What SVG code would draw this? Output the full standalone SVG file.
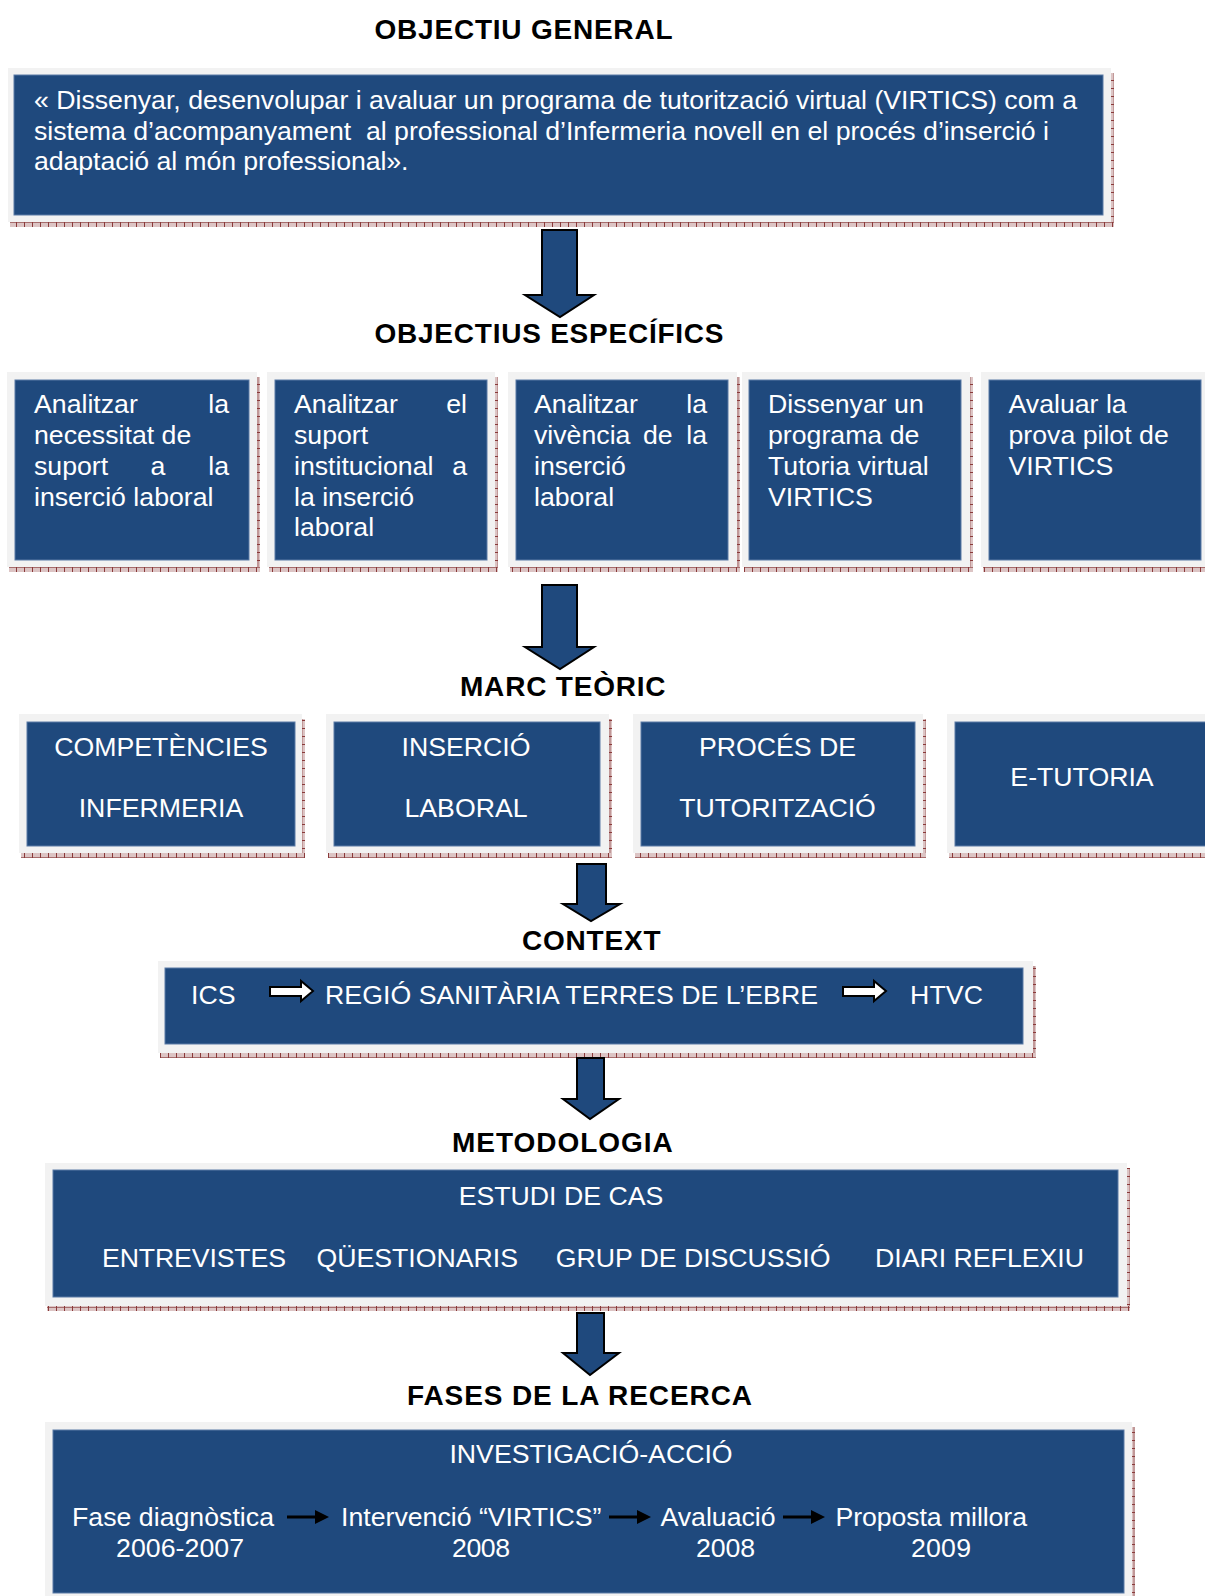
<svg xmlns="http://www.w3.org/2000/svg" width="1205" height="1596" viewBox="0 0 1205 1596">
<defs>
<style>
.frame{fill:#f2f2f2}
.box{fill:#1f497d;stroke:#5a7aa6;stroke-width:1}
.t{font-family:"Liberation Sans",Arial,sans-serif;font-size:26.7px;fill:#ffffff}
.h{font-family:"Liberation Sans",Arial,sans-serif;font-weight:bold;font-size:28px;fill:#000000}
.big{fill:#1f497d;stroke:#000000;stroke-width:2;stroke-linejoin:miter}
.wa{fill:#ffffff;stroke:#000000;stroke-width:2;stroke-linejoin:miter}
.ba{stroke:#000000;stroke-width:3}
.bh{fill:#000000}
.shb{fill:url(#shH)}
.shr{fill:url(#shV)}
</style>
<pattern id="shH" width="8" height="5" patternUnits="userSpaceOnUse">
<rect width="8" height="5" fill="#dcc4c4"/><rect y="2" width="8" height="1" fill="#a66c6c"/><rect width="1" height="5" fill="#8a3a3a"/>
</pattern>
<pattern id="shV" width="4" height="8" patternUnits="userSpaceOnUse">
<rect width="4" height="8" fill="#dcc4c4"/><rect x="1.5" width="1" height="8" fill="#a66c6c"/><rect width="4" height="1" fill="#8a3a3a"/>
</pattern>
</defs>
<rect width="1205" height="1596" fill="#ffffff"/>

<g id="titles">
<text class="h" x="374.5" y="38.5" textLength="298">OBJECTIU GENERAL</text>
<text class="h" x="374.5" y="343" textLength="349">OBJECTIUS ESPECÍFICS</text>
<text class="h" x="460" y="696" textLength="205.6">MARC TEÒRIC</text>
<text class="h" x="522" y="950" textLength="138.5">CONTEXT</text>
<text class="h" x="452" y="1152" textLength="220.7">METODOLOGIA</text>
<text class="h" x="407" y="1405" textLength="345">FASES DE LA RECERCA</text>
</g>

<g id="objectiu-general">
<rect class="shr" x="1111" y="73" width="3" height="154"/>
<rect class="shb" x="10" y="222" width="1104" height="5"/>
<rect class="frame" x="8" y="68" width="1103" height="154"/>
<rect class="box" x="14" y="75" width="1089" height="140"/>
<text class="t" x="34" y="109" textLength="1043">« Dissenyar, desenvolupar i avaluar un programa de tutorització virtual (VIRTICS) com a</text>
<text class="t" x="34" y="139.5" textLength="1015" xml:space="preserve">sistema d’acompanyament  al professional d’Infermeria novell en el procés d’inserció i</text>
<text class="t" x="34" y="170" textLength="374.5">adaptació al món professional».</text>
</g>

<g id="obj1">
<rect class="shr" x="257" y="377" width="3" height="195"/>
<rect class="shb" x="9" y="567" width="251" height="5"/>
<rect class="frame" x="7" y="372" width="250" height="195"/>
<rect class="box" x="15" y="380" width="234" height="180"/>
<text class="t" x="34" y="413">Analitzar</text><text class="t" x="229" y="413" text-anchor="end">la</text>
<text class="t" x="34" y="444">necessitat de</text>
<text class="t" x="34" y="475">suport</text><text class="t" x="158" y="475" text-anchor="middle">a</text><text class="t" x="229" y="475" text-anchor="end">la</text>
<text class="t" x="34" y="506">inserció laboral</text>
</g>

<g id="obj2">
<rect class="shr" x="495" y="377" width="3" height="195"/>
<rect class="shb" x="269" y="567" width="229" height="5"/>
<rect class="frame" x="267" y="372" width="228" height="195"/>
<rect class="box" x="275" y="380" width="212" height="180"/>
<text class="t" x="294" y="413">Analitzar</text><text class="t" x="467" y="413" text-anchor="end">el</text>
<text class="t" x="294" y="444">suport</text>
<text class="t" x="294" y="475">institucional</text><text class="t" x="467" y="475" text-anchor="end">a</text>
<text class="t" x="294" y="506">la inserció</text>
<text class="t" x="294" y="536">laboral</text>
</g>

<g id="obj3">
<rect class="shr" x="737" y="377" width="3" height="195"/>
<rect class="shb" x="510" y="567" width="230" height="5"/>
<rect class="frame" x="508" y="372" width="229" height="195"/>
<rect class="box" x="516" y="380" width="212" height="180"/>
<text class="t" x="534" y="413">Analitzar</text><text class="t" x="707" y="413" text-anchor="end">la</text>
<text class="t" x="534" y="444">vivència</text><text class="t" x="643" y="444">de</text><text class="t" x="707" y="444" text-anchor="end">la</text>
<text class="t" x="534" y="475">inserció</text>
<text class="t" x="534" y="506">laboral</text>
</g>

<g id="obj4">
<rect class="shr" x="970" y="377" width="3" height="195"/>
<rect class="shb" x="744" y="567" width="229" height="5"/>
<rect class="frame" x="742" y="372" width="228" height="195"/>
<rect class="box" x="749" y="380" width="212" height="180"/>
<text class="t" x="768" y="413">Dissenyar un</text>
<text class="t" x="768" y="444">programa de</text>
<text class="t" x="768" y="475">Tutoria virtual</text>
<text class="t" x="768" y="506">VIRTICS</text>
</g>

<g id="obj5">
<rect class="shb" x="983" y="567" width="222" height="5"/>
<rect class="frame" x="981" y="372" width="224" height="195"/>
<rect class="box" x="989" y="380" width="212" height="180"/>
<text class="t" x="1008.5" y="413">Avaluar la</text>
<text class="t" x="1008.5" y="444">prova pilot de</text>
<text class="t" x="1008.5" y="475">VIRTICS</text>
</g>

<g id="marc1">
<rect class="shr" x="302" y="719" width="3" height="139"/>
<rect class="shb" x="21" y="853" width="284" height="5"/>
<rect class="frame" x="19" y="714" width="283" height="139"/>
<rect class="box" x="27" y="722" width="268" height="124"/>
<text class="t" x="161" y="755.5" text-anchor="middle">COMPETÈNCIES</text>
<text class="t" x="161" y="816.5" text-anchor="middle">INFERMERIA</text>
</g>

<g id="marc2">
<rect class="shr" x="609" y="719" width="3" height="139"/>
<rect class="shb" x="328" y="853" width="284" height="5"/>
<rect class="frame" x="326" y="714" width="283" height="139"/>
<rect class="box" x="334" y="722" width="266" height="124"/>
<text class="t" x="466" y="755.5" text-anchor="middle">INSERCIÓ</text>
<text class="t" x="466" y="816.5" text-anchor="middle">LABORAL</text>
</g>

<g id="marc3">
<rect class="shr" x="923" y="719" width="3" height="139"/>
<rect class="shb" x="635" y="853" width="291" height="5"/>
<rect class="frame" x="633" y="714" width="290" height="139"/>
<rect class="box" x="641" y="722" width="274" height="124"/>
<text class="t" x="777.5" y="755.5" text-anchor="middle">PROCÉS DE</text>
<text class="t" x="777.5" y="816.5" text-anchor="middle">TUTORITZACIÓ</text>
</g>

<g id="marc4">
<rect class="shb" x="949" y="853" width="256" height="5"/>
<rect class="frame" x="947" y="714" width="258" height="139"/>
<rect class="box" x="955" y="722" width="252" height="124"/>
<text class="t" x="1082" y="786" text-anchor="middle">E-TUTORIA</text>
</g>

<g id="context">
<rect class="shr" x="1033" y="966" width="3" height="92"/>
<rect class="shb" x="160" y="1053" width="876" height="5"/>
<rect class="frame" x="158" y="961" width="875" height="92"/>
<rect class="box" x="165" y="968" width="858" height="76"/>
<text class="t" x="191" y="1004">ICS</text>
<path class="wa" d="M270,987 H301 V981 L313,991 L301,1001 V996 H270 Z"/>
<text class="t" x="325" y="1004" textLength="493">REGIÓ SANITÀRIA TERRES DE L’EBRE</text>
<path class="wa" d="M843,987 H874 V981 L886,991 L874,1001 V996 H843 Z"/>
<text class="t" x="910" y="1004" textLength="73">HTVC</text>
</g>

<g id="metodologia">
<rect class="shr" x="1127" y="1168" width="3" height="143"/>
<rect class="shb" x="47" y="1306" width="1083" height="5"/>
<rect class="frame" x="45" y="1163" width="1082" height="143"/>
<rect class="box" x="53" y="1170" width="1065" height="127"/>
<text class="t" x="561" y="1205" text-anchor="middle">ESTUDI DE CAS</text>
<text class="t" x="102" y="1266.5" textLength="184">ENTREVISTES</text>
<text class="t" x="316.5" y="1266.5" textLength="201.5">QÜESTIONARIS</text>
<text class="t" x="555.7" y="1266.5" textLength="274.8">GRUP DE DISCUSSIÓ</text>
<text class="t" x="875" y="1266.5" textLength="209">DIARI REFLEXIU</text>
</g>

<g id="fases">
<rect class="shr" x="1132" y="1427" width="3" height="169"/>
<rect class="frame" x="45" y="1422" width="1087" height="174"/>
<rect class="box" x="53" y="1430" width="1071" height="163"/>
<text class="t" x="591" y="1462.5" text-anchor="middle">INVESTIGACIÓ-ACCIÓ</text>
<text class="t" x="72" y="1526" textLength="202">Fase diagnòstica</text>
<line class="ba" x1="287" y1="1517" x2="317" y2="1517"/><path class="bh" d="M315,1510 L329,1517 L315,1524 Z"/>
<text class="t" x="341" y="1526" textLength="260.5">Intervenció “VIRTICS”</text>
<line class="ba" x1="609" y1="1517" x2="639" y2="1517"/><path class="bh" d="M637,1510 L651,1517 L637,1524 Z"/>
<text class="t" x="660.5" y="1526" textLength="115">Avaluació</text>
<line class="ba" x1="783" y1="1517" x2="813" y2="1517"/><path class="bh" d="M811,1510 L825,1517 L811,1524 Z"/>
<text class="t" x="835.5" y="1526" textLength="191.5">Proposta millora</text>
<text class="t" x="116" y="1556.5" textLength="128">2006-2007</text>
<text class="t" x="452" y="1556.5" textLength="58">2008</text>
<text class="t" x="696" y="1556.5" textLength="59">2008</text>
<text class="t" x="911" y="1556.5" textLength="60">2009</text>
</g>

<g id="connectors">
<path class="big" d="M542,230 H577 V295 H594 L560,317 L525,295 H542 Z"/>
<path class="big" d="M542,585 H577 V647 H594 L560,669 L525,647 H542 Z"/>
<path class="big" d="M577,864 H606 V904 H620 L591,921 L563,904 H577 Z"/>
<path class="big" d="M577,1058 H604 V1099 H619 L590,1119 L563,1099 H577 Z"/>
<path class="big" d="M577,1313 H604 V1353 H619 L590,1375 L563,1353 H577 Z"/>
</g>
</svg>
